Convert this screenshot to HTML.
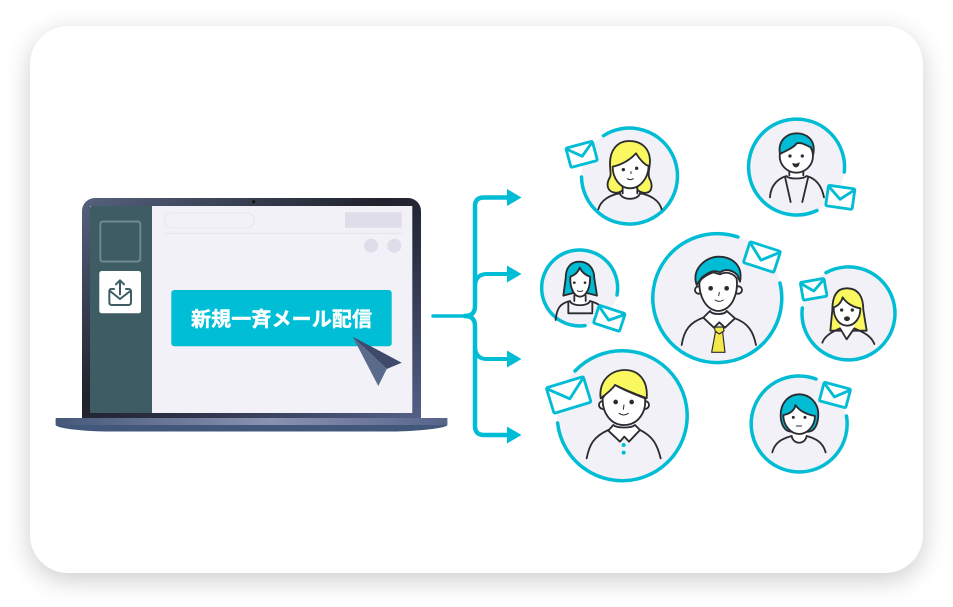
<!DOCTYPE html>
<html lang="ja"><head><meta charset="utf-8"><style>
html,body{margin:0;padding:0;background:#fff;width:953px;height:607px;overflow:hidden}
#c{position:absolute;left:30px;top:26px;width:893px;height:547px;border-radius:38px;background:#fff;box-shadow:0 7px 26px rgba(0,0,0,.2)}
svg{position:absolute;left:0;top:0;filter:blur(.35px)}
.p path,.p circle.o,.p ellipse{stroke:#2b2b30;stroke-width:5.5;stroke-linejoin:round;stroke-linecap:round}
.n{fill:none}.w{fill:#fff}.y{fill:#f9f95f}.t{fill:#00bcd4}
.p path.f{stroke:none;fill:#fff}
.e rect,.e polyline{stroke:#00bcd4;stroke-width:8.5;stroke-linejoin:round}
.e rect{fill:#fff}.e polyline{fill:none}
.r{fill:none;stroke:#00bcd4;stroke-width:3.5;stroke-linecap:round}
.d{fill:#2b2b30}
</style></head><body><div id="c"></div>
<svg width="953" height="607" viewBox="0 0 953 607" xmlns="http://www.w3.org/2000/svg">
<defs>
<linearGradient id="b" x1="0" y1="0" x2="1" y2="1"><stop offset="0" stop-color="#56627f"/><stop offset=".45" stop-color="#20222c"/><stop offset=".6" stop-color="#2a2e42"/><stop offset="1" stop-color="#55618a"/></linearGradient>
<linearGradient id="s" x1="0" y1="0" x2="1" y2="0"><stop offset="0" stop-color="#46587a"/><stop offset=".55" stop-color="#8a92b2"/><stop offset="1" stop-color="#56648a"/></linearGradient>
</defs>
<!-- laptop -->
<path d="M82 422V211a13 13 0 0 1 13-13H408a13 13 0 0 1 13 13V422Z" fill="url(#b)"/>
<circle cx="253.700" cy="201.700" r="1.500" fill="#111"/>
<rect x="90" y="206" width="322.300" height="207" fill="#f2f1f7"/>
<path d="M90 208a2 2 0 0 1 2-2H152V413H90Z" fill="#3d5c63"/>
<path d="M55.700 418H447.300V425C447 428 420 431 395 431.500H105C80 431 56 428 55.700 425Z" fill="#42587a"/>
<path d="M55.700 420a2 2 0 0 1 2-2H445.300a2 2 0 0 1 2 2V425H55.700Z" fill="url(#s)"/>
<rect x="100.300" y="221.500" width="40" height="40" rx="2.500" fill="none" stroke="#6d8a8d" stroke-width="2"/>
<rect x="99.300" y="271" width="41.700" height="42.300" rx="2.500" fill="#fff"/>
<g transform="translate(40 185) scale(.3333)" fill="none" stroke="#3d5c63" stroke-width="6" stroke-linecap="round" stroke-linejoin="round">
<path d="M222 312H214Q208 312 208 320V352Q208 360 216 360H265Q273 360 273 352V320Q273 312 265 312H258"/>
<path d="M210 318L240 342L271 318"/><path d="M240 328V286M228 298L240 286L252 298"/></g>
<rect x="164.500" y="212.800" width="90" height="15" rx="7.500" fill="none" stroke="#e8e7f0" stroke-width="1.200"/>
<rect x="345" y="212.300" width="56.700" height="15.400" fill="#dfdde9"/>
<rect x="164" y="232.800" width="238" height="1.200" fill="#e6e5ef"/>
<circle cx="371" cy="245.700" r="7" fill="#dfdde9"/><circle cx="394.300" cy="245.700" r="7" fill="#dfdde9"/>
<rect x="171.300" y="290" width="220.400" height="56.300" rx="3" fill="#00bed6"/>
<text x="281.500" y="326" text-anchor="middle" font-family="'Liberation Sans','Noto Sans CJK JP',sans-serif" font-size="20" font-weight="700" fill="#fff" stroke="#fff" stroke-width=".4" textLength="181">新規一斉メール配信</text>
<path d="M352.700 336.700L401.700 362.700L386.700 369Z" fill="#3f4a6b"/>
<path d="M352.700 336.700L386.700 369L378.300 386Z" fill="#5a6a8a"/>
<!-- connectors -->
<g fill="none" stroke="#00bcd4" stroke-width="4.500" stroke-linecap="round">
<path stroke-width="3.500" d="M433 316H465"/>
<path stroke-width="4.500" d="M465 316Q475 316 475 306V206Q475 197.500 484 197.500H510"/>
<path stroke-width="4.500" d="M465 316Q475 316 475 326V426Q475 435 484 435H510"/>
<path stroke-width="4" d="M475 287Q475 274 487 274H510"/>
<path stroke-width="4" d="M475 346Q475 359 487 359H510"/></g>
<g fill="#00bcd4"><path d="M507 189L521.500 197.500L507 206Z"/><path d="M507 265.500L521.500 274L507 282.500Z"/><path d="M507 350.500L521.500 359L507 367.500Z"/><path d="M507 426.500L521.500 435L507 443.500Z"/></g>
<!-- circles -->
<g fill="#f2f1f7"><circle cx="629.500" cy="176" r="48"/><circle cx="796.500" cy="167" r="48"/><circle cx="579.500" cy="288" r="38"/><circle cx="717.500" cy="297.500" r="64.500"/><circle cx="848" cy="313" r="46.500"/><circle cx="622" cy="415" r="65"/><circle cx="798.500" cy="423.500" r="48"/></g>
<path class="r" d="M603.500 135.700A48 48 0 1 1 581.500 177"/>
<path class="r" d="M817 210.500A48 48 0 1 1 844.300 172"/>
<path class="r" d="M585 325.600A38 38 0 1 1 617 295"/>
<path class="r" d="M780 283A64.500 64.500 0 1 1 738 237"/>
<path class="r" d="M826 272.700A46.500 46.500 0 1 1 802.300 308"/>
<path class="r" d="M575 371A65 65 0 1 1 557.600 423"/>
<path class="r" d="M846.500 416A48 48 0 1 1 816 379"/>
<!-- person 1 -->
<g class="p" transform="translate(530 110) scale(.3333)">
<path class="y" d="M298 93C262 93 240 120 240 160C240 185 245 195 238 205C228 225 232 245 255 248C270 250 282 240 285 230L315 230C320 240 335 252 350 248C368 245 368 222 358 205C352 190 360 175 360 150C358 115 335 93 298 93Z"/>
<path class="f" d="M278 225V250C280 270 320 270 322 250V225Z"/>
<path class="n" d="M205 298C212 270 240 255 270 250C275 272 325 272 330 250C360 255 388 270 395 298M278 232V250M322 232V250"/>
<path class="w" d="M248 170C270 165 295 155 318 130C330 150 345 165 356 168C355 205 330 235 300 235C270 235 248 205 248 170Z"/>
<circle class="d" cx="280" cy="179" r="5"/><circle class="d" cx="320" cy="175" r="5"/>
<path class="n" style="stroke-width:3" d="M303 185V191M292 206Q301 212 310 206"/>
</g>
<!-- person 2 -->
<g class="p" transform="translate(530 110) scale(.3333)">
<path class="f" d="M778 175V196C780 208 818 208 820 196V175Z"/>
<path class="n" d="M720 262C722 225 745 205 770 198C775 208 820 208 830 198C855 205 875 225 882 262M765 200L782 276M835 200L817 276M778 180V196M820 180V196"/>
<ellipse class="w" cx="799" cy="138" rx="50" ry="50"/>
<path class="t" d="M750 132C742 88 775 70 800 70C830 70 858 90 850 132L843 112C828 106 815 96 800 100C790 115 765 123 750 132Z"/>
<circle class="d" cx="780" cy="138" r="5"/><circle class="d" cx="817" cy="138" r="5"/>
<path class="d" d="M788 160Q799 165 808 158Q806 172 797 171Q790 170 788 160Z" style="stroke-width:2"/>
</g>
<!-- person 3 -->
<g class="p" transform="translate(535 245) scale(.3333)">
<path class="t" d="M133 50C105 50 92 70 92 100L85 152L110 145H160L186 152L178 100C178 70 160 50 133 50Z"/>
<path class="f" d="M118 150V170C120 185 150 185 152 170V150Z"/>
<path class="n" d="M62 225C65 190 75 175 105 168C110 185 160 185 165 168C190 175 205 185 215 210M100 172V205M172 172V200M100 205H172M118 152V168M152 152V168"/>
<path class="w" d="M106 95C120 90 130 80 134 68C140 80 150 90 165 95C167 130 152 155 135 155C118 155 104 130 106 95Z"/>
<circle class="d" cx="118" cy="113" r="4"/><circle class="d" cx="150" cy="113" r="4"/>
<path class="n" style="stroke-width:3" d="M127 137Q135 142 143 137"/>
</g>
<!-- person 4 -->
<g class="p" transform="translate(670 235) scale(.3333)">
<path class="n" d="M100 248C60 262 42 285 35 330M195 250C235 265 250 290 258 330"/>
<path class="w" d="M120 228L100 248L132 278L148 262L165 278L195 250L170 228C165 240 125 240 120 228Z"/>
<path style="fill:#f3e94a;stroke-width:3.500" d="M136 292L125 352H165L158 292Z"/>
<path style="fill:#f3e94a;stroke-width:3.500" d="M134 276H160L162 288L148 297L135 288Z"/>
<circle class="w o" cx="86" cy="165" r="11"/><circle class="w o" cx="205" cy="165" r="11"/>
<path class="w" d="M88 145C90 130 110 120 130 112L150 118C170 108 190 115 200 130C205 170 190 225 145 228C105 225 88 180 88 145Z"/>
<path class="t" d="M80 150C63 100 110 65 145 65C185 65 220 90 210 140L202 120C188 105 168 100 150 112C130 102 112 115 95 128Z"/>
<circle class="d" cx="122" cy="160" r="7"/><circle class="d" cx="170" cy="160" r="7"/>
<path class="n" style="stroke-width:3" d="M148 172L146 182M135 195Q147 203 160 195"/>
</g>
<!-- person 5 -->
<g class="p" transform="translate(795 270) scale(.3333)">
<path class="y" d="M155 55C125 55 112 80 112 120L106 182H215L205 120C205 80 190 55 155 55Z"/>
<path class="f" d="M135 155V175L155 208L178 175V155Z"/>
<path class="n" d="M82 218C90 195 115 185 135 175L155 208L178 175C200 185 228 195 238 222"/>
<path class="w" d="M116 112C130 108 140 95 143 82C155 100 175 112 196 115C197 145 178 167 156 167C134 167 115 145 116 112Z"/>
<circle class="d" cx="140" cy="120" r="5"/><circle class="d" cx="172" cy="120" r="5"/>
<ellipse class="d" style="stroke-width:2" cx="156" cy="146" rx="8" ry="6"/>
</g>
<!-- person 6 -->
<g class="p" transform="translate(530 290) scale(.3333)">
<path class="n" d="M170 505C178 465 190 440 235 420M330 420C370 440 382 465 392 505"/>
<path class="w" d="M250 405L235 422L270 455L283 440L297 455L330 420L315 405C305 415 260 415 250 405Z"/>
<circle class="t" cx="281" cy="465" r="6"/><circle class="t" cx="281" cy="488" r="6"/>
<circle class="w o" cx="219" cy="345" r="12"/><circle class="w o" cx="345" cy="345" r="12"/>
<path class="w" d="M218 325C225 310 245 295 255 285C290 305 320 315 345 325C350 365 325 405 282 405C240 405 216 365 218 325Z"/>
<path class="y" d="M212 325C205 270 245 240 285 240C325 240 355 270 350 325C325 315 295 305 255 285C245 300 225 315 212 325Z"/>
<circle class="d" cx="257" cy="336" r="7"/><circle class="d" cx="305" cy="336" r="7"/>
<path class="n" style="stroke-width:3" d="M282 345L280 358M267 370Q281 380 295 370"/>
</g>
<!-- person 7 -->
<g class="p" transform="translate(530 290) scale(.3333)">
<path class="t" d="M808 313C775 313 752 340 752 375C752 405 765 425 785 425H835C855 425 865 400 865 372C865 340 840 313 808 313Z"/>
<path class="f" d="M788 420V438C790 465 825 465 828 438V420Z"/>
<path class="n" d="M727 487C735 455 760 445 785 438C790 465 825 465 830 438C855 445 878 455 887 487"/>
<path class="w" d="M760 375C780 372 795 360 796 345C810 365 835 375 855 378C855 410 830 432 808 432C785 432 760 410 760 375Z"/>
<circle class="d" cx="790" cy="382" r="4.500"/><circle class="d" cx="825" cy="382" r="4.500"/>
<path class="n" style="stroke-width:3" d="M799 408H815"/>
</g>
<!-- envelopes -->
<g class="e" transform="translate(530 110) scale(.3333)">
<g transform="translate(155 133) rotate(-15)"><rect x="-41" y="-30" width="82" height="60" rx="4"/><polyline points="-39,-26 0,6 39,-26"/></g>
<g transform="translate(931 262) rotate(8)"><rect x="-40" y="-31" width="80" height="62" rx="4"/><polyline points="-38,-27 0,6 38,-27"/></g>
<g transform="translate(696 441) rotate(18)"><rect x="-48" y="-33" width="96" height="66" rx="4"/><polyline points="-46,-29 0,10 46,-29"/></g>
<g transform="translate(851 538) rotate(-10)"><rect x="-36" y="-27" width="72" height="54" rx="4"/><polyline points="-34,-23 0,5 34,-23"/></g>
</g>
<g class="e" transform="translate(530 290) scale(.3333)">
<g transform="translate(238 85) rotate(18)"><rect x="-41" y="-28" width="82" height="56" rx="4"/><polyline points="-39,-24 0,6 39,-24"/></g>
<g transform="translate(116 315) rotate(-17)"><rect x="-58" y="-40" width="116" height="80" rx="4"/><polyline points="-56,-36 0,12 56,-36"/></g>
<g transform="translate(915 315) rotate(15)"><rect x="-41" y="-29" width="82" height="58" rx="4"/><polyline points="-39,-25 0,6 39,-25"/></g>
</g>
</svg></body></html>
